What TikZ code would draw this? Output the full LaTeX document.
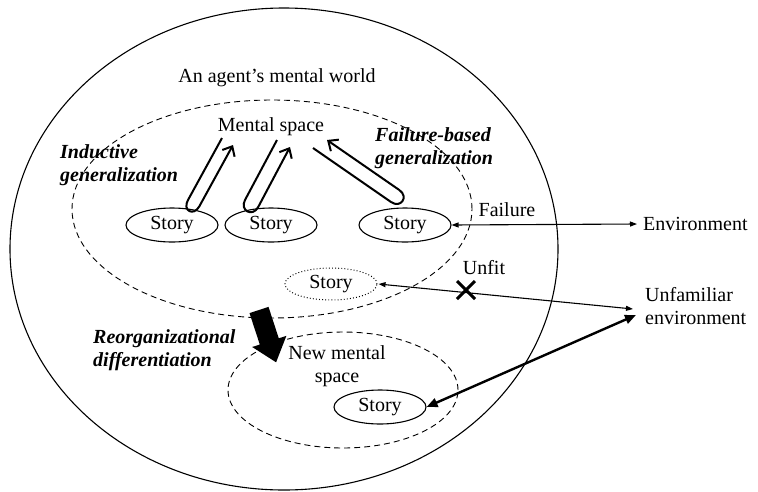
\documentclass[tikz,border=0pt]{standalone}
\usepackage{fontspec}
\setmainfont{Liberation Serif}
\usetikzlibrary{shapes.geometric,arrows.meta}
\begin{document}
\begin{tikzpicture}[x=1pt,y=-1pt,
  every node/.style={font=\fontsize{20}{23}\selectfont, inner sep=0pt},
  lbl/.style={font=\fontsize{20}{23}\selectfont\bfseries\itshape, align=left, anchor=west},
  region/.style={ellipse, draw, dash pattern=on 6pt off 4pt, line width=0.9pt},
  storybox/.style={ellipse, draw, line width=1.1pt, minimum width=92pt, minimum height=34pt},
  loop/.style={line width=2pt, line join=round, -{Straight Barb[length=8pt,width=14pt,line width=2pt]}},
  thin2/.style={line width=1.1pt, {Triangle[length=7pt,width=5pt]}-{Triangle[length=7pt,width=5pt]}},
  thick2/.style={line width=2.4pt, {Triangle[length=11pt,width=9pt]}-{Triangle[length=11pt,width=9pt]}}
]
\useasboundingbox (0,0) rectangle (758,491);
% outer world
\node[ellipse, draw, line width=1.1pt, minimum width=548pt, minimum height=482pt] (world) at (284,249) {};
\node (title) at (277,78) {An agent’s mental world};
% mental space region
\node[region, minimum width=400pt, minimum height=218pt] (ms) at (272,209) {};
\node (mstext) at (271,127) {Mental space};
% new mental space region
\node[region, minimum width=230pt, minimum height=116pt] (nms) at (343,390) {};
\node[align=center] (nmstext) at (337,366) {New mental\\space};
% stories
\node[storybox] (s1) at (172,225) {Story};
\node[storybox] (s2) at (271,225) {Story};
\node[storybox] (s3) at (405,225) {Story};
\node[storybox, draw=none] (s4) at (331,284) {Story};
\draw[line width=1pt, dash pattern=on 0.9pt off 2.2pt] (s4.center) ellipse [x radius=46pt, y radius=16pt];
\node[storybox] (s5) at (380,407) {Story};
% labels
\node[lbl] (ind) at (60,165) {Inductive\\generalization};
\node[lbl] (fbg) at (375,148) {Failure-based\\generalization};
\node[lbl] (reo) at (93,350) {Reorganizational\\differentiation};
\node (fail) at (507,210) {Failure};
\node (unfit) at (484,268) {Unfit};
\node[anchor=west] (env) at (643,224) {Environment};
\node[anchor=west, align=left] (unf) at (645,306) {Unfamiliar\\environment};
% loop arrows
\draw[loop] (222,138) -- (188,200) .. controls (182.1,210.4) and (193.4,216.8) .. (199.3,206.4) -- (233,145);
\draw[loop] (277,140) -- (245,200) .. controls (239.4,210.6) and (252.6,217.6) .. (258.2,207) -- (290,147);
\draw[loop] (313,148) -- (391,202) .. controls (400.8,208.8) and (409.1,196.8) .. (399.3,190) -- (327,140);
% environment connectors
\draw[thin2] (s3.east) -- ([xshift=-6pt]env.west);
\draw[thin2] ([xshift=1pt]s4.east) -- ([xshift=-12pt,yshift=-3pt]unf.west);
\draw[thick2] (s5.east) -- ([xshift=-9pt,yshift=-9pt]unf.west);
% unfit cross
\coordinate (xm) at (466,290);
\draw[line width=3pt] ([shift={(-9,-9)}]xm) -- ([shift={(9,9)}]xm);
\draw[line width=3pt] ([shift={(-9,9)}]xm) -- ([shift={(9,-9)}]xm);
% reorganizational block arrow
\fill (249.5,313.1) -- (268.5,306.9) -- (278.8,338.3) -- (286.4,335.8) -- (276.1,362.3) -- (252.2,347.0) -- (259.8,344.5) -- cycle;
\end{tikzpicture}
\end{document}
